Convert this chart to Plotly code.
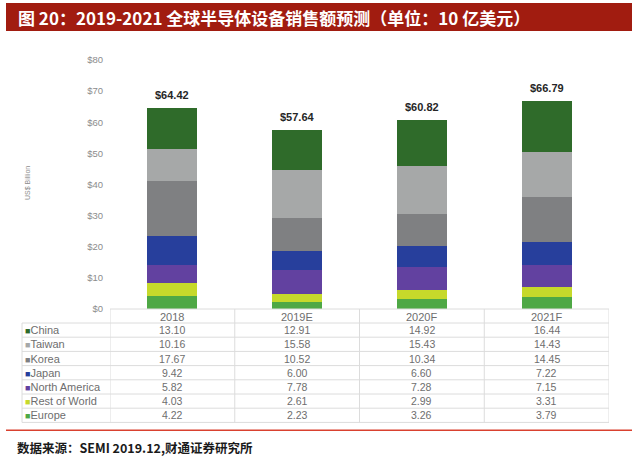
import plotly.graph_objects as go

# data (US$ billion)
years = ["2018", "2019E", "2020F", "2021F"]
regions = ["China", "Taiwan", "Korea", "Japan", "North America", "Rest of World", "Europe"]
china = [13.10, 12.91, 14.92, 16.44]
taiwan = [10.16, 15.58, 15.43, 14.43]
korea = [17.67, 10.52, 10.34, 14.45]
japan = [9.42, 6.00, 6.60, 7.22]
north_america = [5.82, 7.78, 7.28, 7.15]
rest_of_world = [4.03, 2.61, 2.99, 3.31]
europe = [4.22, 2.23, 3.26, 3.79]
totals = [64.42, 57.64, 60.82, 66.79]
yticks = list(range(0, 81, 10))

series = {
    "China": (china, "#2f6b2a"),
    "Taiwan": (taiwan, "#a6a8a8"),
    "Korea": (korea, "#7f8082"),
    "Japan": (japan, "#273f9c"),
    "North America": (north_america, "#6241a0"),
    "Rest of World": (rest_of_world, "#c6d92b"),
    "Europe": (europe, "#4ea845"),
}

W, H = 640, 461
L, R, T, B = 110, 31, 60, 152
PW, PH = W - L - R, H - T - B


def px(x):
    return (x - L) / PW


def py(y):
    return (H - B - y) / PH


fig = go.Figure()

# stack bottom-up: Europe first, China on top
for name in reversed(regions):
    vals, col = series[name]
    fig.add_trace(go.Bar(x=years, y=vals, name=name, marker=dict(color=col, line=dict(width=0)),
                         width=0.4, hoverinfo="y+name"))

ann = []
shapes = []

# totals above the bars
for i, tot in enumerate(totals):
    ann.append(dict(x=i, y=tot, xref="x", yref="y", text=f"<b>${tot:.2f}</b>", showarrow=False,
                    yanchor="bottom", yshift=5, font=dict(family="Arial", size=11, color="#262626")))

# title banner
shapes.append(dict(type="rect", xref="paper", yref="paper", x0=px(6), x1=px(632), y0=py(31), y1=py(3),
                   fillcolor="#a11c10", line=dict(width=0), layer="below"))
ann.append(dict(xref="paper", yref="paper", x=px(16), y=py(17), xanchor="left", yanchor="middle",
                text="<b>图 20：2019-2021 全球半导体设备销售额预测（单位：10 亿美元）</b>", showarrow=False,
                font=dict(family="Noto Sans CJK SC", size=17, color="white")))

# y axis title
ann.append(dict(xref="paper", yref="paper", x=px(27), y=py(183), xanchor="center", yanchor="middle",
                text="US$ Billion", textangle=-90,
                showarrow=False, font=dict(family="Arial", size=7, color="#8c8c8c")))

# data table under the bars
grid = "#dcdcdc"
top, head_bot, row_h = 309, 323, 14.2
n = len(regions)
bottom = head_bot + n * row_h
shapes.append(dict(type="line", xref="x", yref="paper", x0=-0.5, x1=3.5, y0=py(top), y1=py(top),
                   line=dict(color=grid, width=1)))
for i in range(n + 1):
    yy = py(head_bot + i * row_h)
    shapes.append(dict(type="line", xref="paper", yref="paper", x0=px(22), x1=px(L + PW), y0=yy, y1=yy,
                       line=dict(color=grid, width=1)))
shapes.append(dict(type="line", xref="paper", yref="paper", x0=px(22), x1=px(22), y0=py(head_bot),
                   y1=py(bottom), line=dict(color=grid, width=1)))
for k in range(len(years) + 1):
    shapes.append(dict(type="line", xref="x", yref="paper", x0=k - 0.5, x1=k - 0.5, y0=py(top),
                       y1=py(bottom), line=dict(color=grid, width=1)))

for k, yr in enumerate(years):
    ann.append(dict(x=k, xref="x", yref="paper", y=py((top + head_bot) / 2 + 1), text=yr, showarrow=False,
                    xanchor="center", yanchor="middle",
                    font=dict(family="Arial", size=11, color="#6e6e6e")))

for i, name in enumerate(regions):
    vals, col = series[name]
    yc = py(head_bot + (i + 0.5) * row_h)
    ann.append(dict(xref="paper", yref="paper", x=px(23), y=yc, xanchor="left", yanchor="middle",
                    showarrow=False, text=f"<span style='color:{col};font-size:9px'>■</span>{name}",
                    font=dict(family="Arial", size=11, color="#6e6e6e")))
    for k, v in enumerate(vals):
        ann.append(dict(x=k, xref="x", yref="paper", y=yc, text=f"{v:.2f}", showarrow=False,
                        xanchor="center", yanchor="middle",
                        font=dict(family="Arial", size=10.5, color="#6e6e6e")))

# red rule and source
shapes.append(dict(type="rect", xref="paper", yref="paper", x0=px(6), x1=px(632), y0=py(431),
                   y1=py(429.5), fillcolor="#d9412f", line=dict(width=0), layer="below"))
ann.append(dict(xref="paper", yref="paper", x=px(15), y=py(447), xanchor="left", yanchor="middle",
                showarrow=False, text="<b>数据来源：SEMI 2019.12,财通证券研究所</b>",
                font=dict(family="Noto Sans CJK SC", size=12.5, color="#1a1a1a")))

fig.update_layout(
    width=W, height=H, margin=dict(l=L, r=R, t=T, b=B),
    barmode="stack", showlegend=False,
    plot_bgcolor="white", paper_bgcolor="white",
    annotations=ann, shapes=shapes,
    xaxis=dict(type="category", range=[-0.5, 3.5], showticklabels=False, showgrid=False,
               zeroline=False, showline=False),
    yaxis=dict(range=[0, 80], tickvals=yticks, ticktext=[f"${v}" for v in yticks], showgrid=False,
               zeroline=False, showline=False, ticklabelstandoff=6,
               tickfont=dict(family="Arial", size=9.5, color="#8c8c8c")),
)

fig.write_html("out.html", config={"displayModeBar": False},
               post_script="document.body.style.margin='0px';")
